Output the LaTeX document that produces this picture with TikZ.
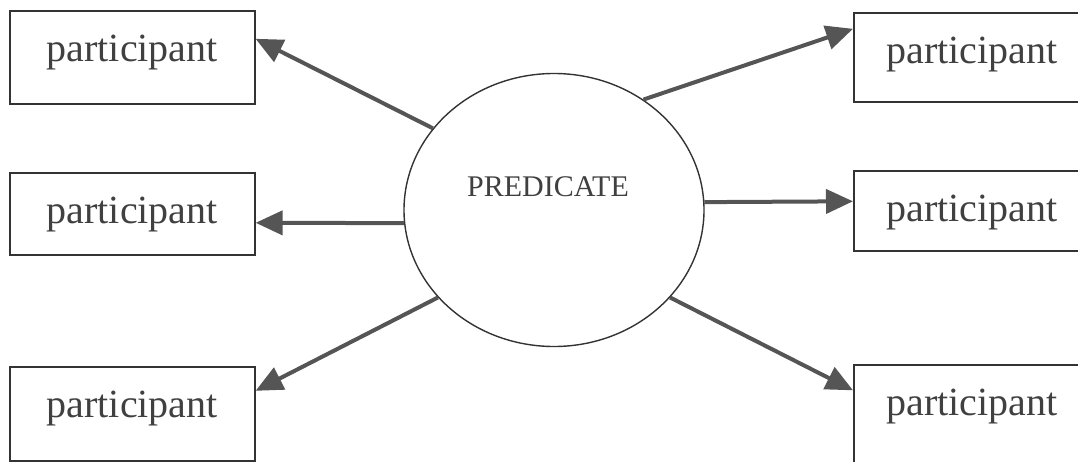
\documentclass[tikz,border=0pt]{standalone}
\usepackage{fontspec}
\setmainfont{Liberation Serif}
\usetikzlibrary{shapes.geometric,arrows.meta}
\definecolor{ink}{HTML}{333333}
\definecolor{shaft}{HTML}{555555}
\begin{document}
\begin{tikzpicture}[x=1pt,y=-1pt,
	part/.style={draw=ink, line width=1.6pt, inner sep=0pt, anchor=north west, text=black!75,
		font=\fontsize{40}{48}\selectfont, text height=51pt},
	role/.style={draw=shaft, line width=4pt, -{Triangle[length=27pt,width=24pt]}}]
	\useasboundingbox (0,0) rectangle (1078,461);
	\clip (0,0) rectangle (1078,461);
	\node[draw=ink, line width=1.4pt, ellipse, inner sep=0pt, minimum width=300pt, minimum height=273pt,
		text=black!75, font=\fontsize{30}{36}\selectfont, text height=20pt, text depth=48pt]
		(pred) at (554,210) {PREDICATE\kern12pt};
	\node[part, minimum width=245pt, text depth=42pt] (tl) at (9,10) {participant};
	\node[part, minimum width=245pt, text depth=31pt] (ml) at (9,172) {participant};
	\node[part, minimum width=245pt, text depth=43pt] (bl) at (9,366) {participant};
	\node[part, minimum width=236pt, text depth=38pt] (tr) at (853,12) {participant};
	\node[part, minimum width=236pt, text depth=29pt] (mr) at (853,170) {participant};
	\node[part, minimum width=236pt, text depth=48pt] (br) at (853,364) {participant};
	\draw[role] (pred.146) -- ([yshift=18.5pt]tl.east);
	\draw[role] (pred.185) -- ([yshift=-9pt]ml.east);
	\draw[role] (pred.217) -- ([yshift=23pt]bl.east);
	\draw[role] (pred.51) -- ([yshift=28.5pt]tr.west);
	\draw[role] (pred.3) -- ([yshift=9.5pt]mr.west);
	\draw[role] (pred.-37) -- ([yshift=24pt]br.west);
\end{tikzpicture}
\end{document}
